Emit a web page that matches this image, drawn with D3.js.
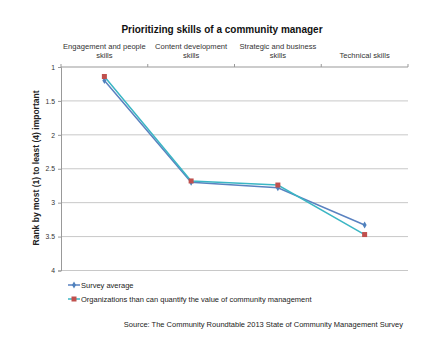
<!DOCTYPE html>
<html><head><meta charset="utf-8">
<script src="https://cdn.jsdelivr.net/npm/d3@7"></script>
<style>body{margin:0;background:#fff;font-family:"Liberation Sans",Arial,sans-serif}</style>
</head><body><svg id="c" width="444" height="341"></svg>
<script>
const categories = [["Engagement and people","skills"],["Content development","skills"],["Strategic and business","skills"],["Technical skills"]];
const surveyAverage = [1.20, 2.70, 2.78, 3.33];
const quantifyOrgs = [1.14, 2.68, 2.74, 3.47];
const yTicks = [1, 1.5, 2, 2.5, 3, 3.5, 4];
const seriesNames = ["Survey average", "Organizations than can quantify the value of community management"];

const svg = d3.select("#c");
const L = 61, R = 408, T = 67, B = 270.5;
const x = d3.scaleBand().domain(d3.range(categories.length)).range([L, R]);
const y = d3.scaleLinear().domain([1, 4]).range([T, B]);

svg.append("text").attr("x", 222).attr("y", 33).attr("text-anchor", "middle")
  .attr("font-size", 10).attr("font-weight", "bold").attr("fill", "#111").text("Prioritizing skills of a community manager");

// gridlines
svg.append("g").selectAll("line").data(yTicks.slice(1)).join("line")
  .attr("x1", L).attr("x2", R).attr("y1", d => y(d)).attr("y2", d => y(d))
  .attr("stroke", "#c8c8c8").attr("stroke-width", 1);

// y axis
const ya = svg.append("g").attr("transform", `translate(${L},0)`)
  .call(d3.axisLeft(y).tickValues(yTicks).tickSize(3).tickFormat(d3.format("")));
ya.select(".domain").attr("stroke", "#999");
ya.selectAll(".tick line").attr("stroke", "#999");
ya.selectAll("text").attr("font-size", 6.8).attr("fill", "#333").attr("font-family", "Liberation Sans, Arial, sans-serif").attr("x", -6);

// top axis
const xa = svg.append("g").attr("transform", `translate(0,${T})`);
xa.append("line").attr("x1", L).attr("x2", R).attr("stroke", "#999");
xa.selectAll(".tk").data(d3.range(categories.length + 1)).join("line")
  .attr("x1", i => L + i * x.bandwidth()).attr("x2", i => L + i * x.bandwidth())
  .attr("y1", 0).attr("y2", -3).attr("stroke", "#999");
categories.forEach((c, i) => {
  const t = xa.append("text").attr("text-anchor", "middle").attr("font-size", 7.6).attr("fill", "#333");
  c.forEach((s, j) => {
    t.append("tspan").attr("x", x(i) + x.bandwidth() / 2)
      .attr("y", -9 - (c.length - 1 - j) * 9).text(s);
  });
});

// y title
svg.append("text").attr("transform", `translate(39,168) rotate(-90)`).attr("text-anchor", "middle")
  .attr("font-size", 8.5).attr("font-weight", "bold").attr("fill", "#222").text("Rank by most (1) to least (4) important");

const cx = i => x(i) + x.bandwidth() / 2;
const line = d3.line().x((d, i) => cx(i)).y(d => y(d));
const c1 = "#5a82c0", c2 = "#3bb6c4", m2 = "#c0504d";

svg.append("path").datum(surveyAverage).attr("d", line).attr("fill", "none").attr("stroke", c1).attr("stroke-width", 1.5);
svg.append("path").datum(quantifyOrgs).attr("d", line).attr("fill", "none").attr("stroke", c2).attr("stroke-width", 1.5);

const diamond = d3.symbol().type(d3.symbolDiamond).size(14);
svg.append("g").selectAll("path").data(surveyAverage).join("path")
  .attr("d", diamond).attr("transform", (d, i) => `translate(${cx(i)},${y(d)})`).attr("fill", "#4f81bd");
svg.append("g").selectAll("rect").data(quantifyOrgs).join("rect")
  .attr("x", (d, i) => cx(i) - 2.5).attr("y", d => y(d) - 2.5).attr("width", 5).attr("height", 5).attr("fill", m2);

// legend
const lg = svg.append("g");
[[c1, "d"], [c2, "s"]].forEach(([col, m], i) => {
  const ly = 285 + i * 14;
  lg.append("line").attr("x1", 68).attr("x2", 80).attr("y1", ly).attr("y2", ly).attr("stroke", col).attr("stroke-width", 1.5);
  if (m === "d") lg.append("path").attr("d", diamond).attr("transform", `translate(74,${ly})`).attr("fill", "#4f81bd");
  else lg.append("rect").attr("x", 71.5).attr("y", ly - 2.5).attr("width", 5).attr("height", 5).attr("fill", m2);
  lg.append("text").attr("x", 81).attr("y", ly + 2.6).attr("font-size", 7.5).attr("fill", "#222").text(seriesNames[i]);
});

svg.append("text").attr("x", 403).attr("y", 327).attr("text-anchor", "end").attr("font-size", 7.5).attr("fill", "#222")
  .text("Source: The Community Roundtable 2013 State of Community Management Survey");
</script></body></html>
